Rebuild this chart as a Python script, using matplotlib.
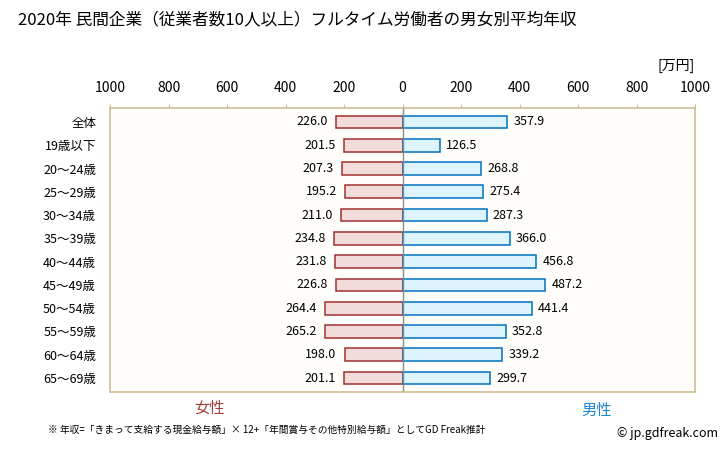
import matplotlib.pyplot as plt
import numpy as np

plt.rcParams['font.family'] = ['Noto Sans CJK JP', 'DejaVu Sans']

# データ
ages = ['全体', '19歳以下', '20〜24歳', '25〜29歳', '30〜34歳', '35〜39歳',
        '40〜44歳', '45〜49歳', '50〜54歳', '55〜59歳', '60〜64歳', '65〜69歳']
female = [226.0, 201.5, 207.3, 195.2, 211.0, 234.8, 231.8, 226.8, 264.4, 265.2, 198.0, 201.1]
male = [357.9, 126.5, 268.8, 275.4, 287.3, 366.0, 456.8, 487.2, 441.4, 352.8, 339.2, 299.7]
ticks = [-1000, -800, -600, -400, -200, 0, 200, 400, 600, 800, 1000]

fig = plt.figure(figsize=(7.28, 4.51), dpi=100)
ax = fig.add_axes([110 / 728, 1 - 392 / 451, 585 / 728, 284 / 451])
ax.set_facecolor('#FFFEFA')

y = np.arange(len(ages))
ax.barh(y, [-v for v in female], height=0.55, color='#F2DCDB', edgecolor='#A0302F', linewidth=1.1)
ax.barh(y, male, height=0.55, color='#DDF3FD', edgecolor='#0070C0', linewidth=1.1)
ax.axvline(0, color='#8C8C8C', linewidth=1)

for i in range(len(ages)):
    ax.text(-female[i] - 28, y[i], f'{female[i]:.1f}', ha='right', va='center', fontsize=9)
    ax.text(male[i] + 22, y[i], f'{male[i]:.1f}', ha='left', va='center', fontsize=9)

ax.set_xlim(-1000, 1000)
ax.set_ylim(len(ages) - 0.4, -0.6)
ax.xaxis.tick_top()
ax.set_xticks(ticks)
ax.set_xticklabels([str(abs(t)) for t in ticks], fontsize=10)
ax.tick_params(axis='x', length=3, color='#CDBF95', pad=6)
ax.set_yticks(y)
ax.set_yticklabels(ages, fontsize=9)
ax.tick_params(axis='y', length=0, pad=10)
for s in ax.spines.values():
    s.set_color('#CDBF95')
    s.set_linewidth(1.2)

fig.text(18 / 728, 1 - 20 / 451, '2020年 民間企業（従業者数10人以上）フルタイム労働者の男女別平均年収',
         fontsize=12, va='center', ha='left')
fig.text(695 / 728, 1 - 66 / 451, '[万円]', fontsize=10, va='center', ha='right')
fig.text(210 / 728, 1 - 408 / 451, '女性', fontsize=11, color='#A0403F', ha='center', va='center')
fig.text(597 / 728, 1 - 410 / 451, '男性', fontsize=11, color='#1E88D0', ha='center', va='center')
fig.text(48 / 728, 1 - 430 / 451,
         '※ 年収=「きまって支給する現金給与額」× 12+「年間賞与その他特別給与額」としてGD Freak推計',
         fontsize=7, ha='left', va='center')
fig.text(718 / 728, 1 - 434 / 451, '© jp.gdfreak.com', fontsize=9, ha='right', va='center')

fig.savefig('out.png', dpi=100)
